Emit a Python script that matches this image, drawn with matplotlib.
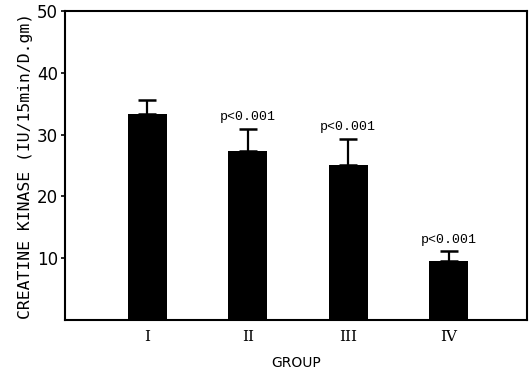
import matplotlib.pyplot as plt

groups = ['I', 'II', 'III', 'IV']
means = [33.3, 27.3, 25.1, 9.6]
sem = [2.3, 3.6, 4.2, 1.5]
sig = ['', 'p<0.001', 'p<0.001', 'p<0.001']

fig = plt.figure(figsize=(5.31, 3.76), dpi=100)
ax = fig.add_axes([0.1224, 0.149, 0.8701, 0.8217])

x = range(1, len(groups) + 1)
ax.bar(x, means, width=0.39, color='black',
       yerr=[[0] * len(sem), sem], capsize=6.5,
       error_kw=dict(elinewidth=1.6, capthick=1.8, ecolor='black'))

for xi, m, e, s in zip(x, means, sem, sig):
    if s:
        ax.text(xi, m + e + 1.4, s, ha='center', va='baseline',
                family='Liberation Mono', fontsize=9.5)

ax.set_xlim(0.18, 4.78)
ax.set_ylim(0, 50)
ax.set_yticks([10, 20, 30, 40, 50])
ax.set_xticks(list(x))
ax.set_xticklabels(groups, family='DejaVu Serif', fontsize=11)
ax.tick_params(axis='x', length=0, pad=7)
ax.tick_params(axis='y', length=3, width=1.2, labelsize=12, pad=2)
for sp in ax.spines.values():
    sp.set_linewidth(1.5)

ax.set_ylabel('CREATINE KINASE (IU/15min/D.gm)', family='DejaVu Sans Mono',
              fontsize=11.8, labelpad=3)
ax.set_xlabel('GROUP', fontsize=10, labelpad=9)

fig.savefig('out.png', dpi=100)
